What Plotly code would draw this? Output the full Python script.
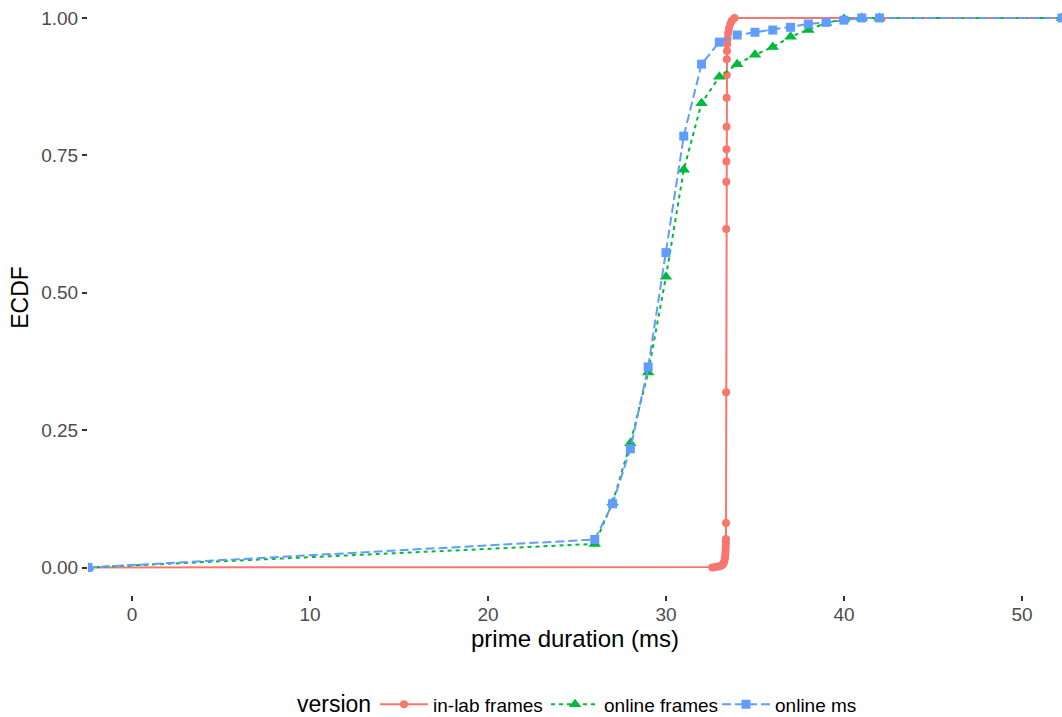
import plotly.graph_objects as go

inlab_x = [32.60, 32.78, 32.95, 33.08, 33.18, 33.24, 33.28, 33.31, 33.33, 33.345, 33.355,
           33.36, 33.365, 33.37, 33.375, 33.38, 33.385, 33.39, 33.395, 33.40, 33.405,
           33.41, 33.415, 33.42, 33.43, 33.44, 33.46, 33.49, 33.54, 33.61, 33.70, 33.85]
inlab_y = [0.000, 0.001, 0.002, 0.003, 0.005, 0.008, 0.012, 0.017, 0.022, 0.028, 0.034,
           0.040, 0.046, 0.052, 0.081, 0.319, 0.616, 0.702, 0.739, 0.761, 0.802,
           0.855, 0.896, 0.925, 0.940, 0.952, 0.962, 0.972, 0.981, 0.989, 0.995, 1.000]

frames_x = [26, 27, 28, 29, 30, 31, 32, 33, 34, 35, 36, 37, 38, 39, 40, 41, 42]
frames_y = [0.043, 0.118, 0.226, 0.355, 0.529, 0.724, 0.845, 0.893, 0.916, 0.933,
            0.947, 0.966, 0.978, 0.991, 0.998, 1.000, 1.000]

ms_x = [26, 27, 28, 29, 30, 31, 32, 33, 34, 35, 36, 37, 38, 39, 40, 41, 42]
ms_y = [0.051, 0.116, 0.216, 0.365, 0.573, 0.785, 0.916, 0.956, 0.969, 0.974,
        0.978, 0.983, 0.989, 0.992, 0.996, 1.000, 1.000]

x_ticks = [0, 10, 20, 30, 40, 50]
y_ticks = [0.00, 0.25, 0.50, 0.75, 1.00]
y_tick_labels = ["0.00", "0.25", "0.50", "0.75", "1.00"]

# axis limits (ECDF is padded with -Inf/+Inf, drawn at panel edges)
X_RANGE = [-2.47, 52.25]
Y_RANGE = [-0.05, 1.0327]

def pad(xs, ys):
    return [X_RANGE[0]] + xs + [X_RANGE[1]], [0.0] + ys + [1.0]

series = [
    ("in-lab frames", inlab_x, inlab_y, "#F8766D", "solid", "circle", 8),
    ("online frames", frames_x, frames_y, "#00BA38", "4px,4px", "triangle-up", 11),
    ("online ms", ms_x, ms_y, "#619CFF", "9px,4px", "square", 9),
]

fig = go.Figure()
for name, xs, ys, col, dash, sym, size in series:
    px, py = pad(xs, ys)
    fig.add_trace(go.Scatter(
        x=px, y=py, mode="lines+markers", name=name,
        line=dict(color=col, width=2, dash=dash),
        marker=dict(color=col, symbol=sym, size=size, line=dict(width=0)),
    ))

LEGEND_Y = -0.184
font_family = "Liberation Sans, Arial, Helvetica, sans-serif"
fig.update_layout(
    width=1062, height=717,
    margin=dict(l=88, r=0, t=0, b=121.5, autoexpand=False),
    paper_bgcolor="white", plot_bgcolor="white",
    font=dict(family=font_family, color="black"),
    showlegend=True,
    legend=dict(
        orientation="h", x=0.2947, xanchor="left", y=LEGEND_Y, yanchor="middle",
        font=dict(size=19, color="black"),
        bgcolor="rgba(0,0,0,0)", itemwidth=48, entrywidth=108,
    ),
    annotations=[dict(
        text="version", xref="paper", yref="paper", x=0.2926, y=LEGEND_Y,
        xanchor="right", yanchor="middle", showarrow=False,
        font=dict(size=23, color="black"),
    )],
)
fig.update_xaxes(
    range=X_RANGE, tickvals=x_ticks, showgrid=False, zeroline=False, showline=False,
    ticks="outside", ticklen=5, tickwidth=2, tickcolor="#333333",
    tickfont=dict(size=19, color="#4D4D4D"), ticklabelstandoff=-3, automargin=False,
    title=dict(text="prime duration (ms)", font=dict(size=24, color="black"), standoff=4),
)
fig.update_yaxes(
    range=Y_RANGE, tickvals=y_ticks, ticktext=y_tick_labels, showgrid=False,
    zeroline=False, showline=False, automargin=False,
    ticks="outside", ticklen=5, tickwidth=2, tickcolor="#333333",
    tickfont=dict(size=19, color="#4D4D4D"),
    title=dict(text="ECDF", font=dict(size=23, color="black"), standoff=6),
)

fig.write_html("out.html")
